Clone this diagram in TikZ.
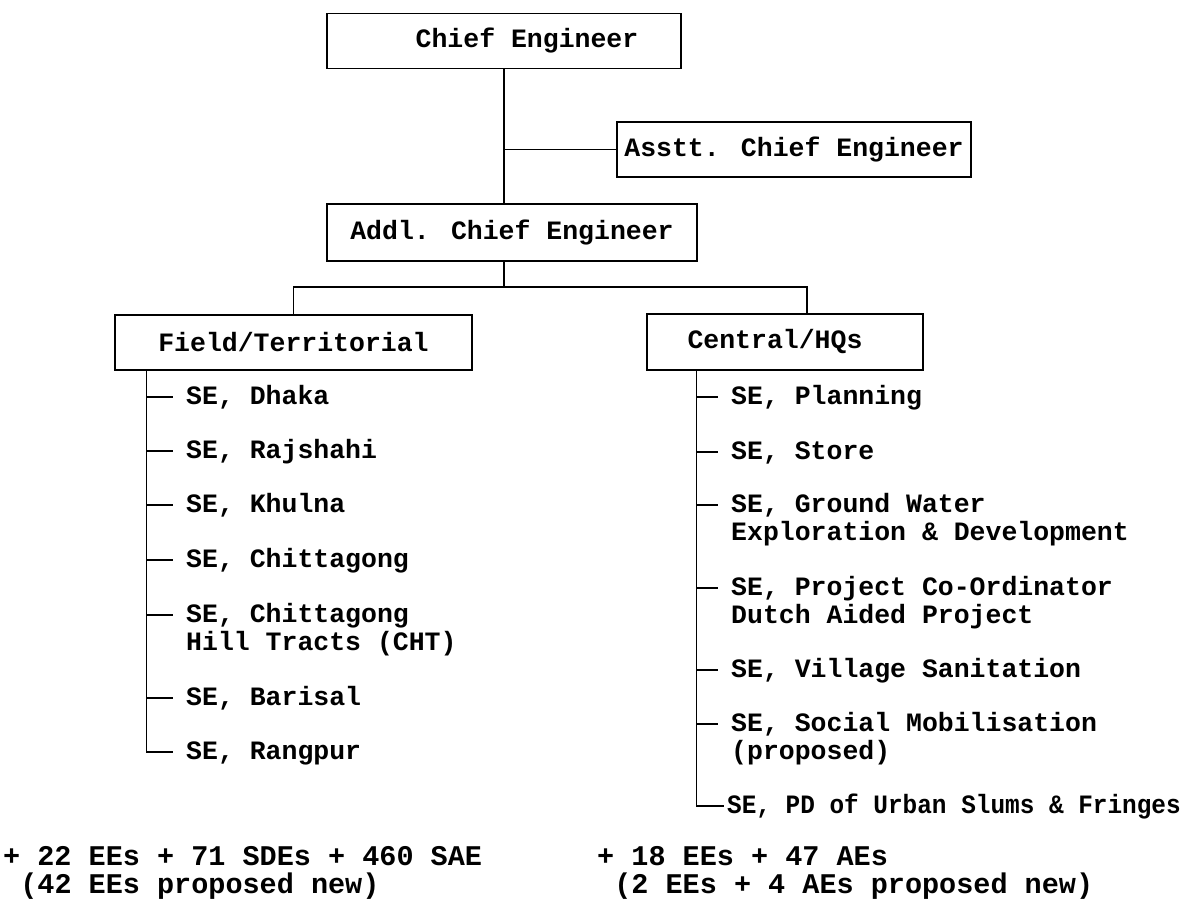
\documentclass[tikz,border=0pt]{standalone}
\usepackage{fontspec}
\setmainfont{Liberation Mono}[BoldFont={Liberation Mono Bold}]
\usetikzlibrary{calc}
\tikzset{
  conn/.style={line width=1.3bp, line cap=rect},
  box/.style={draw, line width=1.3bp, minimum height=55bp, inner sep=0pt,
    font=\bfseries\fontsize{26.5bp}{28bp}\selectfont},
  item/.style={anchor=base west, inner sep=0pt,
    font=\bfseries\fontsize{26.5bp}{28bp}\selectfont},
  foot/.style={anchor=base west, inner sep=0pt,
    font=\bfseries\fontsize{28.5bp}{25bp}\selectfont},
}
\begin{document}
\begin{tikzpicture}[x=1bp,y=-1bp]
\useasboundingbox (0,0) rectangle (1189,899);
\fill[white] (0,0) rectangle (1189,899);

% boxes
\node[box, minimum width=354bp] (chief) at (504,41) {\hspace*{46bp}Chief Engineer};
\node[box, minimum width=354bp] (asst) at (794,149.5) {Asstt. Chief Engineer};
\node[box, minimum width=370bp, minimum height=57bp] (addl) at (512,232.5) {Addl. Chief Engineer};
\node[box, minimum width=357bp] (field) at (293.5,342.5) {Field/Territorial};
\node[box, minimum width=276bp, minimum height=56bp] (central) at (785,342) {Central/HQs\hspace*{20bp}};

% top connectors
\coordinate (hub) at (504,287);
\draw[conn] (chief.south) -- (chief.south |- addl.north);
\draw[conn] (chief.south |- asst.west) -- (asst.west);
\draw[conn] (chief.south |- addl.south) -- (hub);
\draw[conn] (field.north) |- (hub) -| ([xshift=22bp]central.north);

% field items
\node[item] (f1) at (186,404.5) {SE, Dhaka};
\node[item] (f2) at (186,458.5) {SE, Rajshahi};
\node[item] (f3) at (186,512.5) {SE, Khulna};
\node[item] (f4) at (186,567.5) {SE, Chittagong};
\node[item] (f5) at (186,622.5) {\begin{tabular}[t]{@{}l@{}}SE, Chittagong\\Hill Tracts (CHT)\end{tabular}};
\node[item] (f6) at (186,705.5) {SE, Barisal};
\node[item] (f7) at (186,759.5) {SE, Rangpur};

% central items
\node[item] (c1) at (731,404.5) {SE, Planning};
\node[item] (c2) at (731,459.5) {SE, Store};
\node[item] (c3) at (731,512.5) {\begin{tabular}[t]{@{}l@{}}SE, Ground Water\\Exploration \& Development\end{tabular}};
\node[item] (c4) at (731,595.5) {\begin{tabular}[t]{@{}l@{}}SE, Project Co-Ordinator\\Dutch Aided Project\end{tabular}};
\node[item] (c5) at (731,677.5) {SE, Village Sanitation};
\node[item] (c6) at (731,731.5) {\begin{tabular}[t]{@{}l@{}}SE, Social Mobilisation\\(proposed)\end{tabular}};
\node[item] (c7) at (727,813.5) {\scalebox{0.92}[1]{SE, PD of Urban Slums \& Fringes}};

% field tree
\coordinate (fv) at ([xshift=32bp]field.south west);
\foreach \n in {f1,f2,f3,f4,f5,f6,f7}{
  \path ([yshift=7.5bp]\n.base west) coordinate (\n m);
  \draw[conn] (fv |- \n m) -- ([xshift=-14bp]\n m);
}
\draw[conn] (fv) -- (fv |- f7m);

% central tree
\coordinate (cv) at ([xshift=50bp]central.south west);
\foreach \n in {c1,c2,c3,c4,c5,c6}{
  \path ([yshift=7.5bp]\n.base west) coordinate (\n m);
  \draw[conn] (cv |- \n m) -- ([xshift=-14bp]\n m);
}
\path ([yshift=7.5bp]c7.base west) coordinate (c7m);
\draw[conn] (cv |- c7m) -- ([xshift=-4bp]c7m);
\draw[conn] (cv) -- (cv |- c7m);

% footnotes
\node[foot] (n1) at (3,865) {\begin{tabular}[t]{@{}l@{}}+ 22 EEs + 71 SDEs + 460 SAE\\\phantom{(}(42 EEs proposed new)\end{tabular}};
\node[foot] (n2) at (597,865) {\begin{tabular}[t]{@{}l@{}}+ 18 EEs + 47 AEs\\\phantom{(}(2 EEs + 4 AEs proposed new)\end{tabular}};
\end{tikzpicture}
\end{document}
